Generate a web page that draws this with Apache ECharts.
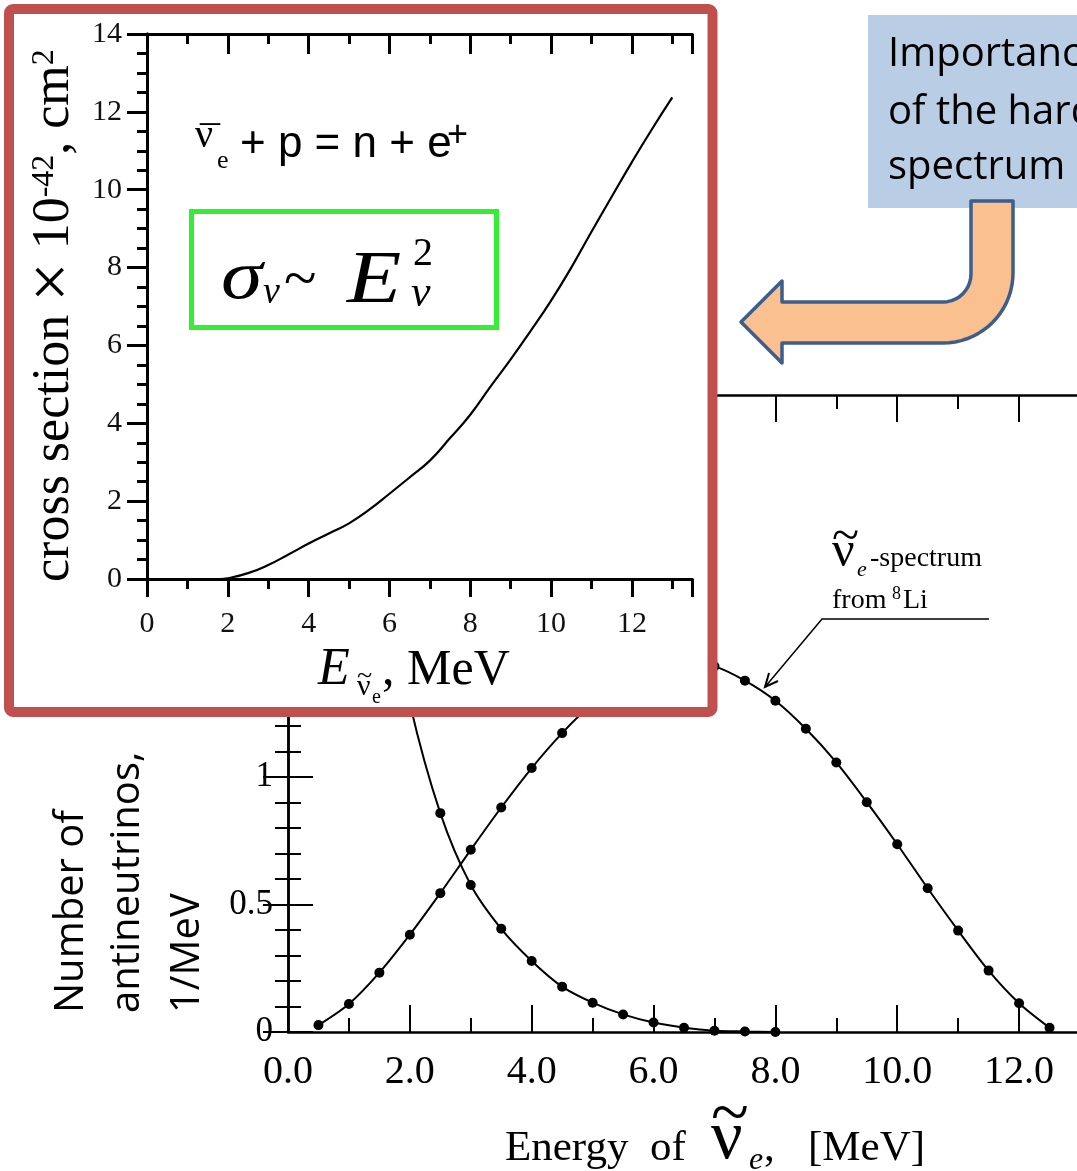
<!DOCTYPE html>
<html><head><meta charset="utf-8">
<script src="https://cdn.jsdelivr.net/npm/echarts@6/dist/echarts.min.js"></script>
<style>html,body{margin:0;padding:0;background:#fff}#c{width:1077px;height:1171px}</style>
</head><body><div id="c"></div>
<script>
// ---- main chart data: number of antineutrinos per MeV ----
const li8Energy   = [0.5,1.0,1.5,2.0,2.5,3.0,3.5,4.0,4.5,5.0,5.5,6.0,6.5,7.0,7.5,8.0,8.5,9.0,9.5,10.0,10.5,11.0,11.5,12.0,12.5];
const li8Spectrum = [0.027,0.11,0.233,0.382,0.545,0.715,0.881,1.036,1.173,1.29,1.38,1.43,1.45,1.435,1.379,1.30,1.19,1.058,0.902,0.737,0.564,0.398,0.241,0.113,0.017];
const reactorEnergy   = [1.5,2.0,2.5,3.0,3.5,4.0,4.5,5.0,5.5,6.0,6.5,7.0,7.5,8.0];
const reactorSpectrum = [1.9,1.29,0.859,0.577,0.405,0.279,0.178,0.115,0.069,0.037,0.017,0.005,0.002,0.0];
const mainXTickLabels = [0,2,4,6,8,10,12];
const mainYTickLabels = [0,0.5,1,1.5,2,2.5];
// ---- inset data: IBD cross section ----
const xsEnergy = [1.8,2.0,2.5,3.0,3.5,4.0,4.5,5.0,5.5,6.0,6.5,7.0,7.5,8.0,8.5,9.0,9.5,10.0,10.5,11.0,11.5,12.0,12.5,13.0];
const xsValues = [0,0.02,0.15,0.36,0.63,0.91,1.17,1.43,1.78,2.19,2.61,3.04,3.62,4.22,4.94,5.64,6.38,7.15,8.0,8.92,9.82,10.71,11.56,12.37];
const insetXTickLabels = [0,2,4,6,8,10,12];
const insetYTickLabels = [0,2,4,6,8,10,12,14];

const SERIF = '"Liberation Serif","Times New Roman",serif';
const SANS = '"Liberation Sans",Arial,sans-serif';
const CAL = '"Open Sans","Noto Sans",sans-serif';
const K = {};
K[SERIF] = 0.3375; K[SANS] = 0.3465; K[CAL] = 0.388;

function txt(text, x, base, size, o) {
  o = o || {};
  const fam = o.family || SERIF;
  const k = K[fam];
  const el = {type:'text', z: o.z || 20, silent:true,
    style:{text:text, fill:o.color||'#000', fontSize:size, fontFamily:fam,
      fontStyle:o.italic?'italic':'normal', fontWeight:o.bold?'bold':'normal',
      align:o.align||'left', verticalAlign:'middle'}};
  if (o.rot) { el.x = base - k*size; el.y = x; el.rotation = Math.PI/2; }
  else { el.x = x; el.y = base - k*size; }
  if (o.sx) el.scaleX = o.sx;
  return el;
}

function pairs(xs, ys){ return xs.map((x,i)=>[x, ys[i]]); }

// bent arrow outline (shape geometry)
function arc(cx, cy, r, a0, a1, n) {
  const pts = [];
  for (let i = 0; i <= n; i++) {
    const a = a0 + (a1 - a0) * i / n;
    pts.push([cx + r*Math.cos(a), cy + r*Math.sin(a)]);
  }
  return pts;
}
const arrowPts = [[971,201],[1013,201],[1013,273]]
  .concat(arc(943,273,70,0,Math.PI/2,18))
  .concat([[782,343],[782,363],[741,322],[782,281],[782,302]])
  .concat(arc(943,274,28,Math.PI/2,0,10));

const chart = echarts.init(document.getElementById('c'), null, {renderer:'canvas'});

const blackLine = (w)=>({show:true, lineStyle:{color:'#000', width:w}});
function xAx(grid, pos, interval, max, tickLen, inside, labels, o) {
  o = o || {};
  return {type:'value', gridIndex:grid, position:pos, min:0, max:max, interval:interval,
    z:o.z||0,
    axisLine: o.noLine ? {show:false} : blackLine(o.lw||2.5),
    axisTick:{show:true, inside:inside, length:tickLen, lineStyle:{color:'#000', width:o.tw||2}},
    splitLine:{show:false},
    axisLabel: labels ? {show:true, color:o.lc||'#000', fontFamily:SERIF, fontSize:o.fs||40, margin:o.margin||18,
      formatter:(v)=> labels.indexOf(v) >= 0 ? (o.fmt ? o.fmt(v) : String(v)) : ''} : {show:false}
  };
}
function yAx(grid, pos, interval, max, tickLen, minorLen, minorSplit, inside, labels, o) {
  o = o || {};
  return {type:'value', gridIndex:grid, position:pos, min:0, max:max, interval:interval,
    z:o.z||0,
    axisLine: blackLine(o.lw||2.5),
    axisTick:{show:true, inside:inside, length:tickLen, lineStyle:{color:'#000', width:o.tw||2}},
    minorTick:{show:true, splitNumber:minorSplit, length:minorLen, lineStyle:{color:'#000', width:o.tw||2}},
    splitLine:{show:false}, minorSplitLine:{show:false},
    axisLabel: labels ? {show:true, color:o.lc||'#000', fontFamily:SERIF, fontSize:o.fs||30, margin:o.margin||18,
      formatter:(v)=> labels.indexOf(v) >= 0 ? String(v) : ''} : {show:false}
  };
}

const option = {
  animation:false,
  backgroundColor:'#fff',
  grid:[
    {left:288, top:395, width:792, height:637, containLabel:false, outerBoundsMode:'none', show:false},
    {left:147, top:34, width:545.5, height:545, containLabel:false, outerBoundsMode:'none', show:false}
  ],
  xAxis:[
    xAx(0,'bottom',2,13,27,true,mainXTickLabels,{fmt:(v)=>v.toFixed(1), fs:40, margin:20}),
    xAx(0,'bottom',1,13,14,true,null,{noLine:true}),
    xAx(0,'top',2,13,27,true,null),
    xAx(0,'top',1,13,14,true,null,{noLine:true}),
    xAx(1,'bottom',2,13.5,18,false,insetXTickLabels,{z:6, lw:3, tw:3, fs:30, margin:30, lc:'#111'}),
    xAx(1,'bottom',1,13.5,10,false,null,{z:6, noLine:true, tw:3}),
    xAx(1,'top',2,13.5,20,true,null,{z:6, lw:3, tw:3}),
    xAx(1,'top',1,13.5,10,true,null,{z:6, noLine:true, tw:3})
  ],
  yAxis:[
    yAx(0,'left',0.5,2.5,25,13,5,true,mainYTickLabels,{fs:35, margin:15}),
    yAx(0,'right',0.5,2.5,25,13,5,true,null),
    yAx(1,'left',2,14,18,10,4,false,insetYTickLabels,{z:6, lw:3, tw:3, fs:30, margin:25, lc:'#111'}),
    yAx(1,'right',2,14,20,10,4,true,null,{z:6, lw:3, tw:3})
  ],
  series:[
    {type:'line', name:'8Li spectrum', xAxisIndex:0, yAxisIndex:0, z:2,
     data:pairs(li8Energy, li8Spectrum), smooth:0.3,
     symbol:'circle', symbolSize:10, itemStyle:{color:'#000'},
     lineStyle:{color:'#000', width:2}, emphasis:{disabled:true}},
    {type:'line', name:'reactor spectrum', xAxisIndex:0, yAxisIndex:0, z:2,
     data:pairs(reactorEnergy, reactorSpectrum), smooth:0.3,
     symbol:'circle', symbolSize:10, itemStyle:{color:'#000'},
     lineStyle:{color:'#000', width:2}, emphasis:{disabled:true}},
    {type:'line', name:'cross section', xAxisIndex:4, yAxisIndex:2, z:7,
     data:pairs(xsEnergy, xsValues), smooth:0.5,
     showSymbol:false, symbol:'none', lineStyle:{color:'#000', width:2.2}, emphasis:{disabled:true}}
  ],
  graphic:{elements:[
    // callout box + bent arrow
    {type:'rect', z:1, silent:true, shape:{x:868, y:15, width:230, height:193}, style:{fill:'#B9CDE5'}},
    txt('Importance', 888, 70, 40, {family:CAL, z:2}),
    txt('of the harder', 888, 128, 40, {family:CAL, z:2}),
    txt('spectrum', 888, 183, 40, {family:CAL, z:2}),
    {type:'polygon', z:3, silent:true, shape:{points:arrowPts},
     style:{fill:'#FAC090', stroke:'#3B5E8C', lineWidth:3.5, lineJoin:'round'}},
    // main chart annotation
    txt('ν', 832, 570, 50, {z:3}),
    txt('~', 832, 555, 50, {z:3}),
    txt('e', 857, 578, 22, {italic:true, z:3}),
    txt('-spectrum', 870, 568, 28, {z:3}),
    txt('from', 832, 610, 28, {z:3}),
    txt('8', 892, 600, 18, {z:3}),
    txt('Li', 903, 610, 28, {z:3}),
    {type:'polyline', z:3, silent:true, shape:{points:[[989,619],[822,619],[765,687]]}, style:{stroke:'#000', lineWidth:1.5, fill:null}},
    {type:'polyline', z:3, silent:true, shape:{points:[[778,681],[765,687],[769,673]]}, style:{stroke:'#000', lineWidth:2, fill:null}},
    // main axis titles
    txt('Energy  of', 505, 1163, 43),
    txt('ν', 711, 1163, 70),
    txt('~', 711, 1140, 70),
    txt('e', 749, 1171, 32, {italic:true}),
    txt(',', 764, 1163, 43),
    txt('[MeV]', 808, 1163, 43),
    txt('Number of', 1013, 87, 40, {family:CAL, rot:true, z:3}),
    txt('antineutrinos,', 1013, 143, 40, {family:CAL, rot:true, z:3}),
    txt('1/MeV', 1013, 203, 40, {family:CAL, rot:true, z:3}),
    // inset frame
    {type:'rect', z:5, silent:true, shape:{x:9, y:9, width:703.5, height:703, r:4}, style:{fill:'#fff', stroke:'#C0504D', lineWidth:10}},
    // inset texts
    {type:'text', z:20, silent:true, x:72 - 0.3375*52, y:582, rotation:Math.PI/2,
     style:{text:'{a|cross section }{x|×}{a| 10}{s|-42}{a|, cm}{s|2}', align:'left', verticalAlign:'middle', fill:'#000',
       rich:{a:{fontSize:52, fontFamily:SERIF, fill:'#000'},
             x:{fontSize:70, fontFamily:SERIF, lineHeight:52, fill:'#000'},
             s:{fontSize:32, fontFamily:SERIF, verticalAlign:'top', fill:'#000'}}}},
    txt('E', 318, 688, 52, {italic:true}),
    txt('ν', 357, 697, 30),
    txt('~', 357, 686, 28),
    txt('e', 372, 704, 20),
    txt(', MeV', 382, 688, 50),
    // reaction
    txt('ν', 195, 150, 40),
    txt('¯', 200, 157, 40),
    txt('e', 217, 170, 26),
    txt('+ p = n + e', 240, 160, 44, {family:SANS}),
    txt('+', 447, 149, 36, {family:SANS}),
    // green box formula
    {type:'rect', z:20, silent:true, shape:{x:191.5, y:211.5, width:305, height:116}, style:{fill:null, stroke:'#33EE33', lineWidth:5}},
    txt('σ', 221, 303, 70, {italic:true, sx:1.2}),
    txt('ν', 263, 306, 38, {italic:true}),
    txt('~', 284, 302, 60),
    txt('E', 347, 308, 74, {italic:true, sx:1.2}),
    txt('2', 413, 268, 40),
    txt('ν', 411, 309, 44, {italic:true})
  ]}
};
chart.setOption(option);
</script>
</body></html>
